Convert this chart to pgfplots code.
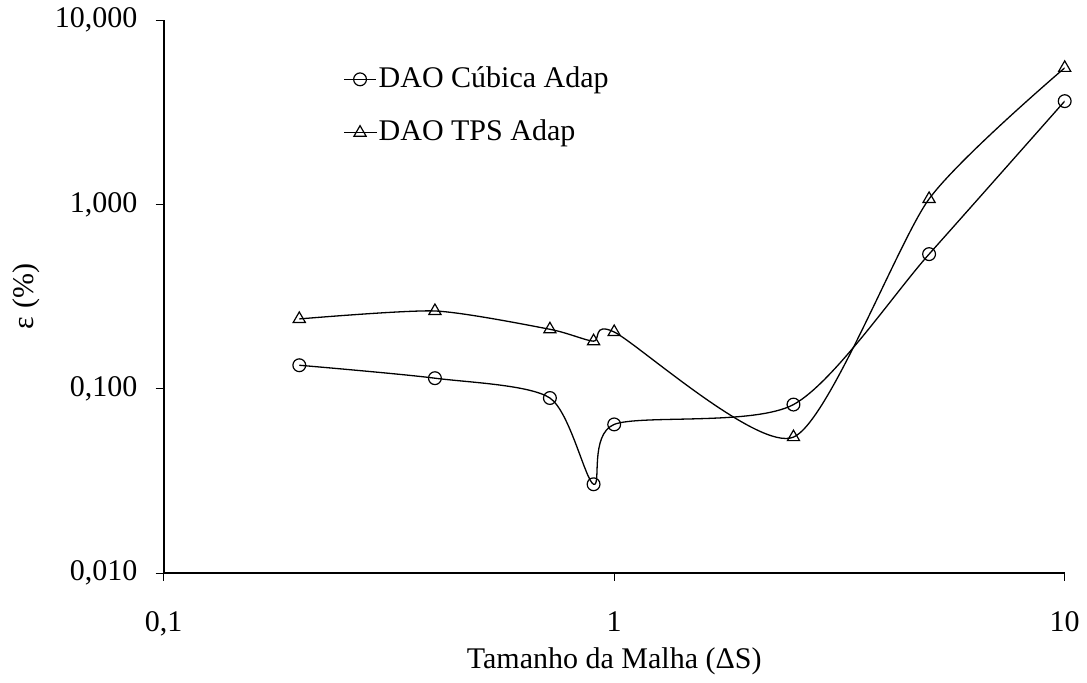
\documentclass[border=0pt]{standalone}
\usepackage{pgfplots}
\pgfplotsset{compat=1.18}
\usepackage{fontspec}
\setmainfont{Liberation Serif}
\begin{document}
\fontsize{15pt}{18pt}\selectfont
\begin{tikzpicture}
\begin{loglogaxis}[
  at={(0pt,0pt)}, anchor=south west,
  scale only axis, width=450.5pt, height=276.5pt,
  xmin=0.1, xmax=10, ymin=0.01, ymax=10,
  axis lines=left,
  axis line style={-, line width=1pt, black},
  tick align=outside,
  major tick length=4pt,
  tick style={black, line width=0.5pt},
  xminorticks=false, yminorticks=false,
  xtick={0.1,1,10}, xticklabels={{0,1},{1},{10}},
  ytick={0.01,0.1,1,10}, yticklabels={{0,010},{0,100},{1,000},{10,000}},
  ticklabel style={font=\fontsize{15pt}{18pt}\selectfont},
  yticklabel style={inner sep=0pt, xshift=-9pt},
  xticklabel style={inner sep=0pt, yshift=-15pt},
  every axis y label/.style={at={(axis description cs:0,0.5)}, xshift=-68.5pt, rotate=90, anchor=center, font=\fontsize{15pt}{18pt}\selectfont},
  every axis x label/.style={at={(axis description cs:0.5,0)}, yshift=-44pt, anchor=center, font=\fontsize{15pt}{18pt}\selectfont},
  xlabel={Tamanho da Malha (ΔS)},
  ylabel={ε (\%)},
  legend style={draw=none, fill=none, at={(0.199,0.92)}, anchor=north west,
    font=\fontsize{15pt}{18pt}\selectfont, row sep=12pt, inner sep=0pt,
    nodes={inner sep=1pt}},
  legend cell align=left,
  legend image code/.code={\draw[mark repeat=2,mark phase=2] plot coordinates {(0pt,0pt) (8pt,0pt) (16pt,0pt)};},
]
\addplot[black, line width=0.65pt, smooth, tension=0.45, mark=o, mark size=3.2pt, mark options={solid, line width=0.6pt}]
  coordinates {(0.2,0.134) (0.4,0.114) (0.72,0.089) (0.9,0.0303) (1,0.064) (2.5,0.082) (5,0.537) (10,3.63)};
\addlegendentry{DAO Cúbica Adap}
\addplot[black, line width=0.65pt, smooth, tension=0.4, mark=triangle, mark size=3.5pt, mark options={solid, line width=0.6pt}]
  coordinates {(0.2,0.239) (0.4,0.264) (0.72,0.210) (0.9,0.181) (1,0.203) (2.5,0.0546) (5,1.07) (10,5.5)};
\addlegendentry{DAO TPS Adap}
\end{loglogaxis}
\pgfresetboundingbox
\path (-81.85pt,-54.5pt) rectangle (461.65pt,286.5pt);
\end{tikzpicture}
\end{document}
